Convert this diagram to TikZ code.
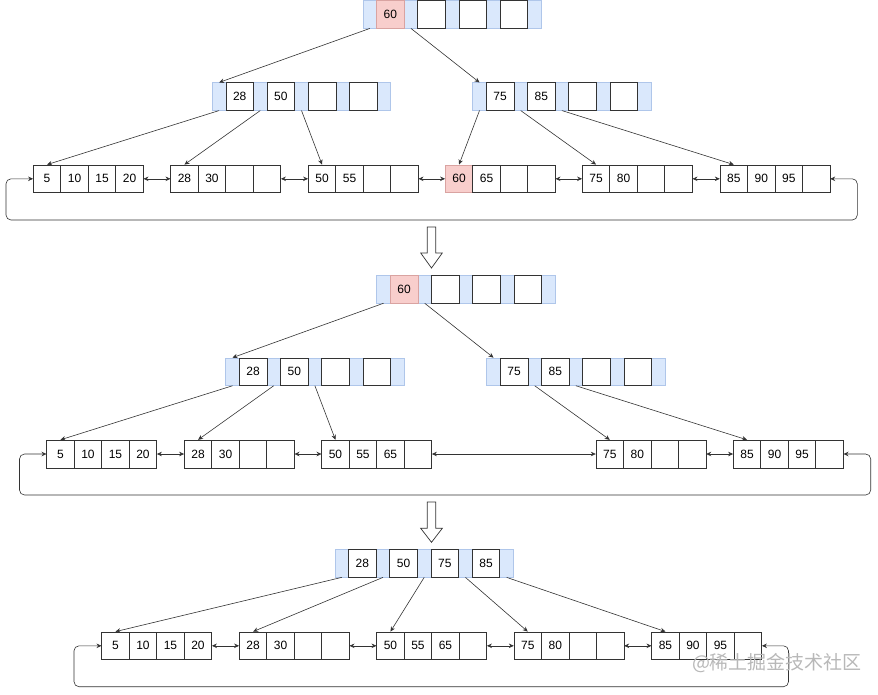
\documentclass[tikz,border=0pt]{standalone}
\usepackage{fontspec}
\setmainfont{Liberation Sans}
\newfontfamily\cjkfont{Noto Sans CJK SC}
\usetikzlibrary{arrows.meta}
\definecolor{bluefill}{HTML}{DAE8FC}
\definecolor{bluedraw}{HTML}{AFC6EA}
\definecolor{pinkfill}{HTML}{F8CECC}
\definecolor{pinkdraw}{HTML}{D9A3A1}
\definecolor{linecol}{HTML}{333333}
\tikzset{
  cell/.style={draw=linecol, fill=white, minimum width=27.5pt, minimum height=27.7pt,
    inner sep=0pt, line width=0.7pt, font=\fontsize{12}{14}\selectfont},
  pinkcell/.style={cell, fill=pinkfill, draw=pinkdraw},
  bluebg/.style={fill=bluefill, draw=bluedraw, minimum height=27.7pt, inner sep=0pt, line width=0.7pt},
  stripe/.style={minimum width=13.6pt, minimum height=27.7pt, inner sep=0pt},
  leafbox/.style={minimum width=110pt, minimum height=27.7pt, inner sep=0pt},
  edge/.style={draw=linecol, line width=0.6pt, -{Stealth[length=5pt,width=4.5pt]}},
  link/.style={draw=linecol, line width=0.6pt, {Stealth[length=5pt,width=4.5pt]}-{Stealth[length=5pt,width=4.5pt]}},
  loopline/.style={draw=linecol, line width=0.6pt, rounded corners=5pt,
    {Stealth[length=5pt,width=4.5pt]}-{Stealth[length=5pt,width=4.5pt]}},
  hollow/.style={draw=linecol, fill=white, line width=0.7pt, line join=miter}
}
% internal node: name, x(left), y(center), labels 1..4, style of first cell
\newcommand{\bpinner}[8]{%
  \node[bluebg, minimum width=178.4pt] (#1) at (#2+89.2,#3) {};
  \foreach \i in {0,...,4} {\node[stripe] (#1-s\i) at (#2+6.8+41.2*\i,#3) {};}
  \node[#8, minimum width=27.6pt] (#1-1) at (#2+27.4,#3) {#4};
  \node[cell, minimum width=27.6pt] (#1-2) at (#2+68.6,#3) {#5};
  \node[cell, minimum width=27.6pt] (#1-3) at (#2+109.8,#3) {#6};
  \node[cell, minimum width=27.6pt] (#1-4) at (#2+151,#3) {#7};
}
% leaf node: name, x(left), y(center), labels 1..4, style of first cell
\newcommand{\bpleaf}[8]{%
  \node[#8] (#1-1) at (#2+13.75,#3) {#4};
  \node[cell] (#1-2) at (#2+41.25,#3) {#5};
  \node[cell] (#1-3) at (#2+68.75,#3) {#6};
  \node[cell] (#1-4) at (#2+96.25,#3) {#7};
  \node[leafbox] (#1) at (#2+55,#3) {};
}
\begin{document}
\begin{tikzpicture}[x=1pt,y=-1pt]
\useasboundingbox (0,0) rectangle (878,694);

% ---------------- panel 1 ----------------
\bpinner{r1}{363}{14.4}{60}{}{}{}{pinkcell}
\bpinner{i1l}{212.3}{96.5}{28}{50}{}{}{cell}
\bpinner{i1r}{472.7}{96.5}{75}{85}{}{}{cell}
\bpleaf{l1a}{33.3}{178.8}{5}{10}{15}{20}{cell}
\bpleaf{l1b}{170.7}{178.8}{28}{30}{}{}{cell}
\bpleaf{l1c}{308.3}{178.8}{50}{55}{}{}{cell}
\bpleaf{l1d}{445.3}{178.8}{60}{65}{}{}{pinkcell}
\bpleaf{l1e}{582.3}{178.8}{75}{80}{}{}{cell}
\bpleaf{l1f}{720}{178.8}{85}{90}{95}{}{cell}

\draw[edge] (r1-s0.south) -- (i1l-s0.north);
\draw[edge] (r1-s1.south) -- (i1r-s0.north);
\draw[edge] (i1l-s0.south) -- (l1a-1.north);
\draw[edge] (i1l-s1.south) -- (l1b-1.north);
\draw[edge] (i1l-s2.south) -- (l1c-1.north);
\draw[edge] (i1r-s0.south) -- (l1d-1.north);
\draw[edge] (i1r-s1.south) -- (l1e-1.north);
\draw[edge] (i1r-s2.south) -- (l1f-1.north);

\draw[link] (l1a.east) -- (l1b.west);
\draw[link] (l1b.east) -- (l1c.west);
\draw[link] (l1c.east) -- (l1d.west);
\draw[link] (l1d.east) -- (l1e.west);
\draw[link] (l1e.east) -- (l1f.west);
\draw[loopline] (l1f.east) -- (857.3,178.8) -- (857.3,220) -- (6,220) -- (6,178.8) -- (l1a.west);

% hollow arrow 1
\draw[hollow] (427.2,227) -- (435.8,227) -- (435.8,253) -- (442.3,253) -- (431.5,268)
  -- (420.7,253) -- (427.2,253) -- cycle;

% ---------------- panel 2 ----------------
\bpinner{r2}{376.7}{289.2}{60}{}{}{}{pinkcell}
\bpinner{i2l}{225.7}{371.7}{28}{50}{}{}{cell}
\bpinner{i2r}{486.7}{371.7}{75}{85}{}{}{cell}
\bpleaf{l2a}{46.7}{454}{5}{10}{15}{20}{cell}
\bpleaf{l2b}{184.3}{454}{28}{30}{}{}{cell}
\bpleaf{l2c}{321.7}{454}{50}{55}{65}{}{cell}
\bpleaf{l2e}{596}{454}{75}{80}{}{}{cell}
\bpleaf{l2f}{733.3}{454}{85}{90}{95}{}{cell}

\draw[edge] (r2-s0.south) -- (i2l-s0.north);
\draw[edge] (r2-s1.south) -- (i2r-s0.north);
\draw[edge] (i2l-s0.south) -- (l2a-1.north);
\draw[edge] (i2l-s1.south) -- (l2b-1.north);
\draw[edge] (i2l-s2.south) -- (l2c-1.north);
\draw[edge] (i2r-s1.south) -- (l2e-1.north);
\draw[edge] (i2r-s2.south) -- (l2f-1.north);

\draw[link] (l2a.east) -- (l2b.west);
\draw[link] (l2b.east) -- (l2c.west);
\draw[link] (l2c.east) -- (l2e.west);
\draw[link] (l2e.east) -- (l2f.west);
\draw[loopline] (l2f.east) -- (870.7,454) -- (870.7,495) -- (19.5,495) -- (19.5,454) -- (l2a.west);

% hollow arrow 2
\draw[hollow] (427.2,502) -- (435.8,502) -- (435.8,528.3) -- (442.3,528.3) -- (431.5,542.3)
  -- (420.7,528.3) -- (427.2,528.3) -- cycle;

% ---------------- panel 3 ----------------
\bpinner{r3}{335}{563.3}{28}{50}{75}{85}{cell}
\bpleaf{l3a}{101.7}{645.8}{5}{10}{15}{20}{cell}
\bpleaf{l3b}{239.3}{645.8}{28}{30}{}{}{cell}
\bpleaf{l3c}{376.7}{645.8}{50}{55}{65}{}{cell}
\bpleaf{l3d}{514}{645.8}{75}{80}{}{}{cell}
\bpleaf{l3e}{651.7}{645.8}{85}{90}{95}{}{cell}

\draw[edge] (r3-s0.south) -- (l3a-1.north);
\draw[edge] (r3-s1.south) -- (l3b-1.north);
\draw[edge] (r3-s2.south) -- (l3c-1.north);
\draw[edge] (r3-s3.south) -- (l3d-1.north);
\draw[edge] (r3-s4.south) -- (l3e-1.north);

\draw[link] (l3a.east) -- (l3b.west);
\draw[link] (l3b.east) -- (l3c.west);
\draw[link] (l3c.east) -- (l3d.west);
\draw[link] (l3d.east) -- (l3e.west);
\draw[loopline] (l3e.east) -- (788.5,645.8) -- (788.5,686.7) -- (74,686.7) -- (74,645.8) -- (l3a.west);

% watermark
\node[text=black!28, inner sep=0pt, font=\cjkfont\fontsize{19}{20}\selectfont] (wm) at (777,663) {@稀土掘金技术社区};
\end{tikzpicture}
\end{document}
